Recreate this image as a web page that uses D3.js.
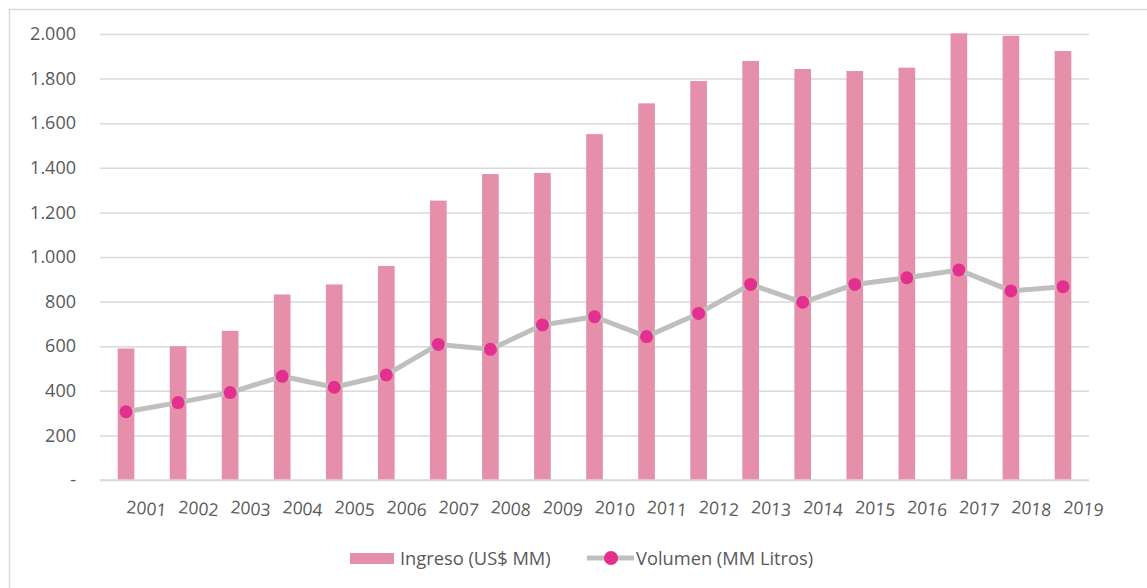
<!DOCTYPE html>
<html>
<head>
<meta charset="utf-8">
<script src="https://cdn.jsdelivr.net/npm/d3@7"></script>
<style>
  html, body { margin: 0; padding: 0; background: #fff; }
  svg { display: block; font-family: "Open Sans", Lato, sans-serif; }
</style>
</head>
<body>
<svg id="chart" width="1147" height="588"></svg>
<script>
const years = ["2001","2002","2003","2004","2005","2006","2007","2008","2009","2010",
               "2011","2012","2013","2014","2015","2016","2017","2018","2019"];
const ingreso = [590, 600, 669, 832, 877, 960, 1253, 1372, 1377, 1551,
                 1689, 1789, 1879, 1843, 1834, 1849, 2003, 1992, 1924];
const volumen = [306, 347, 392, 465, 416, 471, 608, 586, 695, 732,
                 643, 747, 877, 797, 877, 907, 942, 848, 867];
const yTicks = [0, 200, 400, 600, 800, 1000, 1200, 1400, 1600, 1800, 2000];
const seriesNames = ["Ingreso (US$ MM)", "Volumen (MM Litros)"];

const svg = d3.select("#chart");
const W = 1147, H = 588;
const m = { left: 100, right: 1089, top: 34, bottom: 480 };

// outer border
svg.append("rect").attr("x", 9.5).attr("y", 9.5).attr("width", W + 20).attr("height", H + 20)
  .attr("fill", "none").attr("stroke", "#d9d9d9").attr("stroke-width", 1.5);

const x = d3.scaleBand().domain(years).range([m.left, m.right]).paddingInner(0.68).paddingOuter(0.34);
const y = d3.scaleLinear().domain([0, 2000]).range([m.bottom, m.top]);

const fmt = v => v === 0 ? "-" : d3.format(",")(v).replace(/,/g, ".");

// gridlines
const yAxis = d3.axisLeft(y).tickValues(yTicks).tickSize(-(m.right - m.left)).tickFormat(fmt).tickPadding(24);
const gy = svg.append("g").attr("transform", `translate(${m.left},0)`).call(yAxis);
gy.select(".domain").remove();
gy.selectAll(".tick line").attr("stroke", "#d9d9d9").attr("stroke-width", 1.5);
gy.selectAll(".tick text").attr("fill", "#595959").style("font-size", "18px")
  .style("font-family", "'Open Sans', sans-serif");

// bars
svg.append("g").selectAll("rect").data(years).join("rect")
  .attr("x", d => x(d))
  .attr("width", x.bandwidth())
  .attr("y", (d, i) => y(ingreso[i]))
  .attr("height", (d, i) => y(0) - y(ingreso[i]))
  .attr("fill", "#e68fab");

// baseline redraw over bars
svg.append("line").attr("x1", m.left).attr("x2", m.right).attr("y1", y(0)).attr("y2", y(0))
  .attr("stroke", "#d9d9d9").attr("stroke-width", 1.5);

// line
const cx = d => x(d) + x.bandwidth() / 2;
const line = d3.line().x((d, i) => cx(years[i])).y(d => y(d));
svg.append("path").datum(volumen).attr("d", line)
  .attr("fill", "none").attr("stroke", "#bfbfbf").attr("stroke-width", 5).attr("stroke-linejoin", "round");
svg.append("g").selectAll("circle").data(volumen).join("circle")
  .attr("cx", (d, i) => cx(years[i])).attr("cy", d => y(d)).attr("r", 6.5)
  .attr("fill", "#e3308e");

// x labels (rotated slightly)
const xAxis = d3.axisBottom(x).tickSize(0).tickPadding(0);
const gx = svg.append("g").attr("transform", `translate(0,${m.bottom})`).call(xAxis);
gx.select(".domain").remove();
gx.selectAll(".tick text")
  .attr("fill", "#595959").style("font-size", "17.5px").style("font-family", "'Open Sans', sans-serif")
  .attr("text-anchor", "start").attr("dy", null).attr("y", 0)
  .attr("transform", "translate(0,33) rotate(5)");

// legend
const leg = svg.append("g");
leg.append("rect").attr("x", 350).attr("y", 553).attr("width", 44).attr("height", 11).attr("fill", "#e68fab");
leg.append("text").attr("x", 400).attr("y", 565).text(seriesNames[0])
  .attr("fill", "#595959").style("font-size", "18.3px");
leg.append("line").attr("x1", 587).attr("x2", 634).attr("y1", 558).attr("y2", 558)
  .attr("stroke", "#bfbfbf").attr("stroke-width", 5);
leg.append("circle").attr("cx", 611).attr("cy", 558).attr("r", 7).attr("fill", "#e3308e");
leg.append("text").attr("x", 636).attr("y", 565).text(seriesNames[1])
  .attr("fill", "#595959").style("font-size", "18.3px");
</script>
</body>
</html>
